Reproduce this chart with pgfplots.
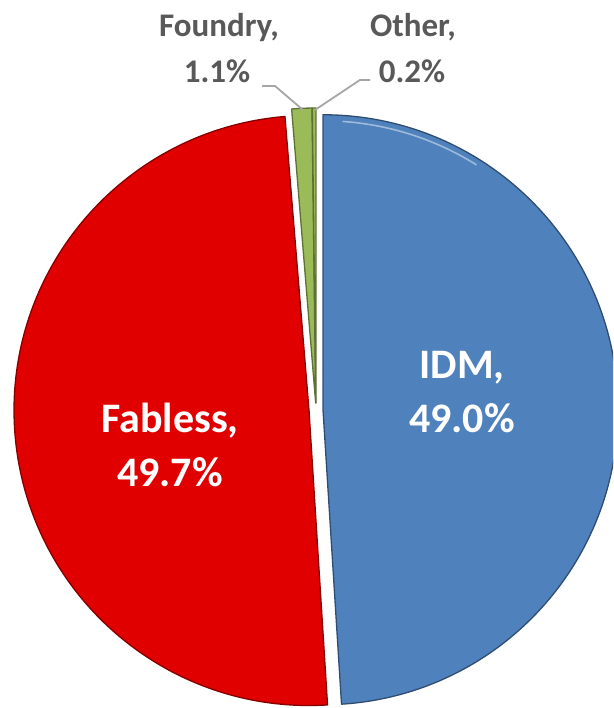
\documentclass[border=0pt]{standalone}
\usepackage{pgfplots}
\pgfplotsset{compat=1.18}
\usepackage{pgfplotstable}
\usepackage{fontspec}
\setmainfont{Carlito}

\definecolor{idm}{HTML}{4F81BD}
\definecolor{fabless}{HTML}{E00000}
\definecolor{foundry}{HTML}{9BBB59}
\definecolor{lblgray}{HTML}{595959}
\definecolor{leader}{HTML}{A6A6A6}

% share in percent, explode offset (px), colour
\pgfplotstableread{
name     value explode col
IDM      49.0  7       idm
Fabless  49.7  7       fabless
Foundry  1.1   7       foundry
Other    0.2   7       foundry
}\piedata

\begin{document}
\begin{tikzpicture}
\begin{axis}[
    x=1pt, y=1pt,
    xmin=0, xmax=613,
    ymin=0, ymax=708,
    hide axis,
    clip=true,
]
\pgfplotsextra{
  \gdef\angA{90}
  \foreach \i in {0,...,3}{
    \pgfplotstablegetelem{\i}{value}\of\piedata \let\slval\pgfplotsretval
    \pgfplotstablegetelem{\i}{explode}\of\piedata \let\slexp\pgfplotsretval
    \pgfplotstablegetelem{\i}{col}\of\piedata \let\slcol\pgfplotsretval
    \pgfmathsetmacro\angB{\angA-3.6*\slval}
    \pgfmathsetmacro\angM{(\angA+\angB)/2}
    \fill[shift={(\angM:\slexp pt)}, fill=\slcol, draw=\slcol!60!black,
          line width=1.3pt, line join=round]
      (axis cs:316,298) -- ++(\angA:295pt)
      arc[start angle=\angA, end angle=\angB, radius=295pt] -- cycle;
    \xdef\angA{\angB}
  }
  % bevel highlight along the top rim of IDM
  \draw[shift={(1.8:7pt)}, white, opacity=0.45, line width=1.6pt, line cap=round]
    (axis cs:316,298) ++(86:289pt) arc[start angle=86, end angle=58, radius=289pt];
}
% leader lines
\draw[leader, line width=1.8pt] (axis cs:262,622) -- (axis cs:275,622) -- (axis cs:303,598);
\draw[leader, line width=1.8pt] (axis cs:370,628) -- (axis cs:360,628) -- (axis cs:315,598);
% labels
\node[anchor=base, text=white, font=\fontsize{42}{42}\selectfont\bfseries] at (axis cs:462,329) {IDM,};
\node[anchor=base, text=white, font=\fontsize{42}{42}\selectfont\bfseries] at (axis cs:462,275) {49.0\%};
\node[anchor=base, text=white, font=\fontsize{42}{42}\selectfont\bfseries] at (axis cs:170,275) {Fabless,};
\node[anchor=base, text=white, font=\fontsize{42}{42}\selectfont\bfseries] at (axis cs:170,221) {49.7\%};
\node[anchor=base, text=lblgray, font=\fontsize{33}{33}\selectfont\bfseries] at (axis cs:219,671) {Foundry,};
\node[anchor=base, text=lblgray, font=\fontsize{33}{33}\selectfont\bfseries] at (axis cs:217,625) {1.1\%};
\node[anchor=base, text=lblgray, font=\fontsize{33}{33}\selectfont\bfseries] at (axis cs:413,671) {Other,};
\node[anchor=base, text=lblgray, font=\fontsize{33}{33}\selectfont\bfseries] at (axis cs:412,625) {0.2\%};
\end{axis}
\pgfresetboundingbox
\path (current axis.south west) rectangle (current axis.north east);
\end{tikzpicture}
\end{document}
